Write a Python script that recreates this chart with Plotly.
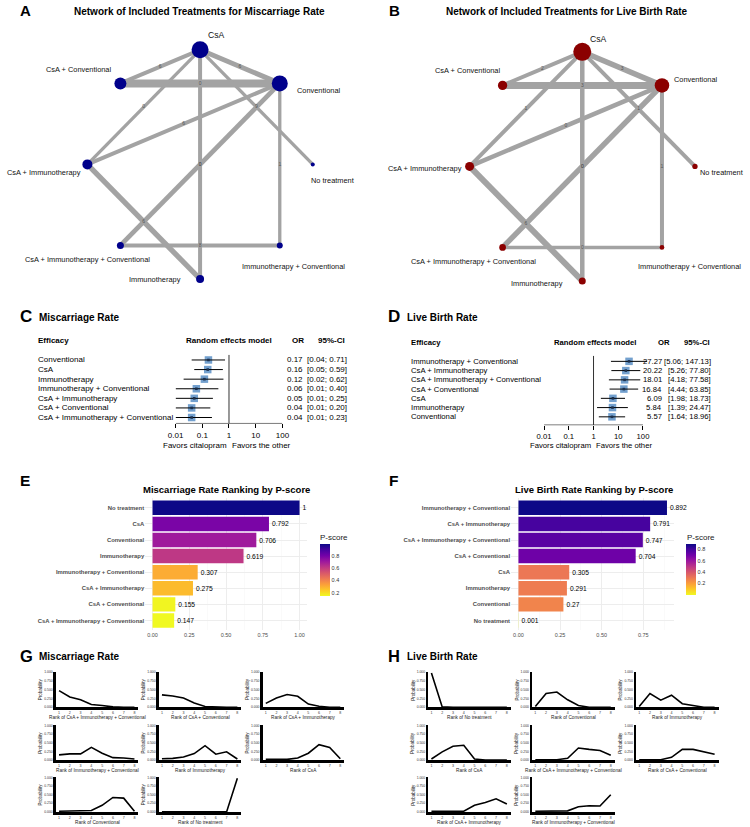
import numpy as np
import plotly.graph_objects as go

W, H = 750, 827
FONT = "Liberation Sans"


def px(x):
    return x / W


def py(y):
    return 1 - y / H


# ======================= DATA =======================
# --- network panels (A, B) ---
net_nodes = ["CsA", "Conventional", "No treatment", "Immunotherapy + Conventional",
             "Immunotherapy", "CsA + Immunotherapy + Conventional",
             "CsA + Immunotherapy", "CsA + Conventional"]
net_edges = [("CsA", "CsA + Conventional"), ("CsA", "Conventional"),
             ("CsA + Conventional", "Conventional"), ("CsA", "CsA + Immunotherapy"),
             ("CsA", "Immunotherapy"), ("CsA", "No treatment"),
             ("Conventional", "CsA + Immunotherapy"),
             ("Conventional", "CsA + Immunotherapy + Conventional"),
             ("Conventional", "Immunotherapy + Conventional"),
             ("CsA + Immunotherapy", "Immunotherapy"),
             ("CsA + Immunotherapy + Conventional", "Immunotherapy + Conventional")]
mr_edge_weight = [4.0, 5.0, 8.0, 3.3, 4.0, 3.3, 4.0, 4.7, 3.3, 5.3, 4.0]
mr_edge_label = ["6", "6", "0", "0", "0", "9", "6", "0", "1", "6", "8"]
mr_node_size = [17, 16, 4, 6, 8, 7, 10, 12]
lb_edge_weight = [4.0, 5.5, 7.0, 4.0, 4.5, 4.0, 4.5, 5.5, 4.0, 6.0, 3.5]
lb_edge_label = ["2", "3", "3", "1", "0", "1", "0", "0", "1", "6", "0"]
lb_node_size = [18, 14.5, 5.3, 4.7, 7, 6.7, 9, 9.3]

# --- forest panels (C, D) ---
mr_treat = ["Conventional", "CsA", "Immunotherapy", "Immunotherapy + Conventional",
            "CsA + Immunotherapy", "CsA + Conventional", "CsA + Immunotherapy + Conventional"]
mr_or = [0.17, 0.16, 0.12, 0.06, 0.05, 0.04, 0.04]
mr_lo = [0.04, 0.05, 0.02, 0.01, 0.01, 0.01, 0.01]
mr_hi = [0.71, 0.59, 0.62, 0.40, 0.25, 0.20, 0.23]

lb_treat = ["Immunotherapy + Conventional", "CsA + Immunotherapy",
            "CsA + Immunotherapy + Conventional", "CsA + Conventional", "CsA",
            "Immunotherapy", "Conventional"]
lb_or = [27.27, 20.22, 18.01, 16.84, 6.09, 5.84, 5.57]
lb_lo = [5.06, 5.26, 4.18, 4.44, 1.98, 1.39, 1.64]
lb_hi = [147.13, 77.80, 77.58, 63.85, 18.73, 24.47, 18.96]

forest_ticks = [0.01, 0.1, 1, 10, 100]
forest_ticktext = ["0.01", "0.1", "1", "10", "100"]

# --- P-score panels (E, F) ---
mr_rank_treat = ["No treatment", "CsA", "Conventional", "Immunotherapy",
                 "Immunotherapy + Conventional", "CsA + Immunotherapy",
                 "CsA + Conventional", "CsA + Immunotherapy + Conventional"]
mr_pscore = [1, 0.792, 0.706, 0.619, 0.307, 0.275, 0.155, 0.147]
lb_rank_treat = ["Immunotherapy + Conventional", "CsA + Immunotherapy",
                 "CsA + Immunotherapy + Conventional", "CsA + Conventional", "CsA",
                 "Immunotherapy", "Conventional", "No treatment"]
lb_pscore = [0.892, 0.791, 0.747, 0.704, 0.305, 0.291, 0.27, 0.001]

# --- rankograms (G, H) ---
ranks = [1, 2, 3, 4, 5, 6, 7, 8]
mr_rankogram_treat = ["CsA + Immunotherapy + Conventional", "CsA + Conventional",
                      "CsA + Immunotherapy", "Immunotherapy + Conventional",
                      "Immunotherapy", "CsA", "Conventional", "No treatment"]
mr_rank_prob = [
    [0.47, 0.29, 0.21, 0.08, 0.05, 0.01, 0.0, 0.0],
    [0.35, 0.32, 0.26, 0.12, 0.02, 0.0, 0.0, 0.0],
    [0.11, 0.26, 0.36, 0.31, 0.09, 0.03, 0.0, 0.0],
    [0.15, 0.18, 0.18, 0.37, 0.20, 0.07, 0.06, 0.03],
    [0.04, 0.05, 0.09, 0.19, 0.42, 0.17, 0.24, 0.03],
    [0.02, 0.02, 0.02, 0.06, 0.20, 0.45, 0.37, 0.04],
    [0.02, 0.02, 0.02, 0.04, 0.19, 0.42, 0.40, 0.02],
    [0.0, 0.0, 0.0, 0.0, 0.0, 0.0, 0.0, 0.98],
]
lb_rankogram_treat = ["No treatment", "Conventional", "Immunotherapy", "CsA",
                      "CsA + Immunotherapy + Conventional", "CsA + Conventional",
                      "CsA + Immunotherapy", "Immunotherapy + Conventional"]
lb_rank_prob = [
    [0.97, 0.01, 0.0, 0.0, 0.0, 0.0, 0.0, 0.0],
    [0.02, 0.39, 0.43, 0.21, 0.05, 0.0, 0.0, 0.0],
    [0.02, 0.39, 0.20, 0.34, 0.10, 0.04, 0.0, 0.0],
    [0.03, 0.24, 0.40, 0.43, 0.03, 0.0, 0.0, 0.0],
    [0.01, 0.01, 0.01, 0.05, 0.35, 0.31, 0.28, 0.14],
    [0.01, 0.01, 0.01, 0.08, 0.31, 0.31, 0.24, 0.17],
    [0.02, 0.02, 0.02, 0.02, 0.19, 0.27, 0.38, 0.23],
    [0.02, 0.02, 0.02, 0.03, 0.15, 0.18, 0.17, 0.50],
]

# ======================= STYLE =======================
EDGE = "#a3a3a3"
mr_label_off = [(16, -15), (39, 7), (20, 16), (14, 21), (-45, 1), (-33, 14), (-43, 8), (-42, -14)]
lb_label_off = [(16, -13), (34, -6), (27, 6), (28, 19), (-45, 3), (-29, 14), (-45, 2), (-35, -15)]

fig = go.Figure()
layout = dict(width=W, height=H, margin=dict(l=0, r=0, t=0, b=0),
              paper_bgcolor="white", plot_bgcolor="rgba(0,0,0,0)",
              showlegend=False, font=dict(family=FONT, color="black"))
annotations = []
ax_count = [0]


def add_axes(x0, x1, y0, y1, xkw, ykw):
    ax_count[0] += 1
    n = ax_count[0]
    s = "" if n == 1 else str(n)
    layout["xaxis" + s] = dict(domain=[px(x0), px(x1)], anchor="y" + s, **xkw)
    layout["yaxis" + s] = dict(domain=[py(y1), py(y0)], anchor="x" + s, **ykw)
    return "x" + s, "y" + s


def ann(text, x, y, size, xanchor="center", yanchor="middle", bold=False,
        color="black", xref="paper", yref="paper", **kw):
    if xref == "paper":
        x = px(x)
    if yref == "paper":
        y = py(y)
    if bold:
        text = "<b>" + text + "</b>"
    annotations.append(dict(text=text, x=x, y=y, xref=xref, yref=yref,
                            xanchor=xanchor, yanchor=yanchor, showarrow=False,
                            borderpad=0,
                            font=dict(family=FONT, size=size, color=color), **kw))


# ----------------------- networks -----------------------
def draw_network(nodes, edges, widths, elabels, sizes, color, cx, cy, R,
                 xdom, ydom, offsets):
    hidden = dict(visible=False, fixedrange=True)
    xa, ya = add_axes(xdom[0], xdom[1], ydom[0], ydom[1],
                      dict(range=[(xdom[0] - cx) / R, (xdom[1] - cx) / R], **hidden),
                      dict(range=[(cy - ydom[1]) / R, (cy - ydom[0]) / R], **hidden))
    ang = np.pi / 2 - 2 * np.pi * np.arange(len(nodes)) / len(nodes)
    pos = {n: (np.cos(a), np.sin(a)) for n, a in zip(nodes, ang)}
    for (a, b), w in zip(edges, widths):
        fig.add_trace(go.Scatter(x=[pos[a][0], pos[b][0]], y=[pos[a][1], pos[b][1]],
                                 mode="lines", line=dict(color=EDGE, width=w),
                                 hoverinfo="skip", xaxis=xa, yaxis=ya))
    mx = [(pos[a][0] + pos[b][0]) / 2 for a, b in edges]
    my = [(pos[a][1] + pos[b][1]) / 2 for a, b in edges]
    fig.add_trace(go.Scatter(x=mx, y=my, mode="text", text=elabels,
                             textfont=dict(size=5, color="#555555", family=FONT),
                             hoverinfo="skip", xaxis=xa, yaxis=ya))
    fig.add_trace(go.Scatter(x=[pos[n][0] for n in nodes], y=[pos[n][1] for n in nodes],
                             mode="markers",
                             marker=dict(size=sizes, color=color, opacity=1,
                                         line=dict(width=0)),
                             hoverinfo="skip", xaxis=xa, yaxis=ya))
    for n, (dx, dy) in zip(nodes, offsets):
        ann(n, pos[n][0], pos[n][1], 8.6 if n == "CsA" else 7.4,
            xref=xa, yref=ya, xshift=dx, yshift=-dy, color="#111111")


draw_network(net_nodes, net_edges, mr_edge_weight, mr_edge_label, mr_node_size,
             "#00008b", 196, 164, 115, (0, 375), (20, 300), mr_label_off)
draw_network(net_nodes, net_edges, lb_edge_weight, lb_edge_label, lb_node_size,
             "#8b0000", 586, 166, 115, (375, 750), (20, 300), lb_label_off)

ann("A", 18, 10, 15, bold=True)
ann("B", 394, 10, 15, bold=True)
ann("Network of Included Treatments for Miscarriage Rate", 195.8, 11, 10, bold=True)
ann("Network of Included Treatments for Live Birth Rate", 570.3, 11, 10, bold=True)


# ----------------------- forest plots -----------------------
def draw_forest(treat, orv, lo, hi, s):
    ytop, ybot = s["yrange"][1], s["yrange"][0]
    xa, ya = add_axes(s["x0"], s["x1"], s["y0"], s["y1"],
                      dict(type="log", range=s["xrange"], tickmode="array",
                           tickvals=forest_ticks, ticktext=forest_ticktext,
                           ticks="outside", ticklen=4, tickwidth=1, tickcolor="black",
                           tickfont=dict(family=FONT, size=s["fs"], color="black"),
                           showgrid=False, zeroline=False, showline=False, fixedrange=True),
                      dict(range=s["yrange"], visible=False, fixedrange=True))
    rows = list(range(len(treat)))
    fig.add_trace(go.Scatter(x=[forest_ticks[0], forest_ticks[-1]], y=[ybot, ybot],
                             mode="lines", line=dict(color="black", width=1),
                             cliponaxis=False, hoverinfo="skip", xaxis=xa, yaxis=ya))
    fig.add_trace(go.Scatter(x=[1, 1], y=[ytop, ybot], mode="lines",
                             line=dict(color="#333333", width=1),
                             cliponaxis=False, hoverinfo="skip", xaxis=xa, yaxis=ya))
    cx, cy = [], []
    for i, l, h in zip(rows, lo, hi):
        cx += [l, h, None]
        cy += [i, i, None]
    fig.add_trace(go.Scatter(x=orv, y=rows, mode="markers",
                             marker=dict(symbol="square", size=7.5, color="#5b8fc6",
                                         opacity=0.85, line=dict(width=0)),
                             cliponaxis=False, hoverinfo="skip", xaxis=xa, yaxis=ya))
    fig.add_trace(go.Scatter(x=cx, y=cy, mode="lines", line=dict(color="black", width=1),
                             cliponaxis=False, hoverinfo="skip", xaxis=xa, yaxis=ya))
    fig.add_trace(go.Scatter(x=orv, y=rows, mode="markers",
                             marker=dict(symbol="square", size=2.6, color="#1b2f4d"),
                             cliponaxis=False, hoverinfo="skip", xaxis=xa, yaxis=ya))
    fs = s["fs"]
    for i, t, o, l, h in zip(rows, treat, orv, lo, hi):
        ann(t, s["label_x"], i, fs, xanchor="left", yref=ya)
        ann(f"{o:.2f}", s["or_right"], i, fs, xanchor="right", yref=ya)
        ann(f"[{l:.2f}; {h:.2f}]", s["ci_right"], i, fs, xanchor="right", yref=ya)
    hy = s["hdr_y"]
    ann("Efficacy", s["label_x"], hy, fs, xanchor="left", bold=True)
    ann("Random effects model", s["rem_x"], hy, fs, bold=True)
    ann("OR", s["orh_x"], hy, fs, bold=True)
    ann("95%-CI", s["cih_x"], hy, fs, bold=True)
    ann("Favors citalopram", s["fav_l"], s["fav_y"], fs)
    ann("Favors the other", s["fav_r"], s["fav_y"], fs)


draw_forest(mr_treat, mr_or, mr_lo, mr_hi,
            dict(x0=171, x1=280, xrange=[-2, 2], y0=355, y1=424, yrange=[6.62, -0.55],
                 fs=8, label_x=30, or_right=301.7, ci_right=346.7, hdr_y=341,
                 rem_x=226, orh_x=296, cih_x=330.3, fav_l=190.7, fav_r=258.3, fav_y=446.5))
draw_forest(lb_treat, lb_or, lb_lo, lb_hi,
            dict(x0=547, x1=653, xrange=[-2, 2.2], y0=356, y1=425.7, yrange=[6.9, -0.61],
                 fs=7.7, label_x=410, or_right=668.3, ci_right=718, hdr_y=342.7,
                 rem_x=598.8, orh_x=669.3, cih_x=703.3, fav_l=563.3, fav_r=628.3, fav_y=446))

ann("C", 18, 316.3, 17, bold=True)
ann("Miscarriage Rate", 31, 317.3, 10, xanchor="left", bold=True)
ann("D", 394, 316.3, 17, bold=True)
ann("Live Birth Rate", 406, 317.3, 10, xanchor="left", bold=True)


# ----------------------- P-score bars -----------------------
def draw_bars(cats, vals, x0, x1, y0, y1, xrange, cb_x, cb_y, cb_len):
    grid = "#ebebeb"
    xa, ya = add_axes(x0, x1, y0, y1,
                      dict(range=xrange, tickmode="linear", tick0=0, dtick=0.25,
                           tickformat=".2f", showgrid=True, gridcolor=grid, gridwidth=0.9,
                           minor=dict(tick0=0, dtick=0.125, showgrid=True,
                                      gridcolor="#f5f5f5", gridwidth=0.5),
                           zeroline=False, showline=False, ticks="", fixedrange=True,
                           tickfont=dict(family=FONT, size=5.5, color="#4d4d4d")),
                      dict(type="category", categoryorder="array", categoryarray=cats,
                           range=[len(cats) - 0.4, -0.6], showgrid=True, gridcolor=grid,
                           gridwidth=0.9, zeroline=False, showline=False, ticks="",
                           fixedrange=True,
                           tickfont=dict(family=FONT, size=5.9, color="#4d4d4d",
                                         weight="bold")))
    fig.add_trace(go.Bar(x=vals, y=cats, orientation="h", width=0.9,
                         marker=dict(color=vals, colorscale="Plasma", reversescale=True,
                                     cmin=min(vals), cmax=max(vals), line=dict(width=0),
                                     showscale=True,
                                     colorbar=dict(x=px(cb_x), xanchor="left", y=py(cb_y),
                                                   yanchor="middle", len=cb_len,
                                                   lenmode="pixels", thickness=10,
                                                   thicknessmode="pixels", outlinewidth=0,
                                                   xpad=0, ypad=0, ticks="",
                                                   tickvals=[0.2, 0.4, 0.6, 0.8],
                                                   tickformat=".1f",
                                                   tickfont=dict(family=FONT, size=5.5,
                                                                 color="#333333"))),
                         text=[f"{v:g}" for v in vals], textposition="outside",
                         constraintext="none", cliponaxis=False,
                         outsidetextfont=dict(family=FONT, size=6.7, color="black"),
                         hoverinfo="skip", xaxis=xa, yaxis=ya))


draw_bars(mr_rank_treat, mr_pscore, 140, 305, 499, 631.4, [-0.05, 1.05], 318, 571, 52)
draw_bars(lb_rank_treat, lb_pscore, 513.3, 680, 499, 631.4,
          [-0.0446, 0.9366], 692, 570.5, 51)

ann("E", 17, 481, 15.5, bold=True)
ann("F", 393, 481, 15.5, bold=True)
ann("Miscarriage Rate Ranking by P-score", 223.3, 490, 9.5, bold=True)
ann("Live Birth Rate Ranking by P-score", 597.5, 490, 9.5, bold=True)
ann("P-score", 317.7, 538, 8, xanchor="left", color="#222222")
ann("P-score", 692, 538, 8, xanchor="left", color="#222222")


# ----------------------- rankograms -----------------------
def draw_rankograms(treats, probs, cols, rows_px):
    for k, (t, p) in enumerate(zip(treats, probs)):
        cx0, cx1 = cols[k % 3]
        ry0, ry1 = rows_px[k // 3]
        xa, ya = add_axes(cx0, cx1, ry0, ry1,
                          dict(range=[0.72, 8.36], tickmode="array", tickvals=ranks,
                               showline=True, linecolor="black", linewidth=2.6,
                               showgrid=False, zeroline=False, ticks="", fixedrange=True,
                               tickfont=dict(family=FONT, size=3.6, color="#333333")),
                          dict(range=[-0.005, 1.01], tickmode="array",
                               tickvals=[0, 0.25, 0.5, 0.75, 1.0],
                               ticktext=["0.000", "0.250", "0.500", "0.750", "1.000"],
                               showline=True, linecolor="black", linewidth=2.6,
                               showgrid=False, zeroline=False, ticks="", fixedrange=True,
                               tickfont=dict(family=FONT, size=3.4, color="#333333")))
        fig.add_trace(go.Scatter(x=ranks, y=p, mode="lines",
                                 line=dict(color="black", width=1.6),
                                 cliponaxis=False, hoverinfo="skip", xaxis=xa, yaxis=ya))
        ann("Rank of " + t, (cx0 + cx1) / 2, ry1 + 10, 4.7, color="#222222")
        ann("Probability", cx0 - 15.5, (ry0 + ry1) / 2, 4.5, color="#222222",
            textangle=-90)


rank_rows = [(673, 709), (727, 762), (779, 814)]
draw_rankograms(mr_rankogram_treat, mr_rank_prob,
                [(49, 133), (154, 238), (260, 343)], rank_rows)
draw_rankograms(lb_rankogram_treat, lb_rank_prob,
                [(429, 513), (535, 619), (641, 725)], rank_rows)

ann("G", 19, 657.5, 16.5, bold=True)
ann("Miscarriage Rate", 31, 658.3, 10, xanchor="left", bold=True)
ann("H", 394, 657.5, 16.5, bold=True)
ann("Live Birth Rate", 406, 658.3, 10, xanchor="left", bold=True)

layout["annotations"] = annotations
fig.update_layout(**layout)
fig.write_html("out.html",
               config={"displayModeBar": False, "staticPlot": True},
               post_script="document.body.style.margin='0';"
                           "document.body.style.padding='0';"
                           "document.body.style.overflow='hidden';")
